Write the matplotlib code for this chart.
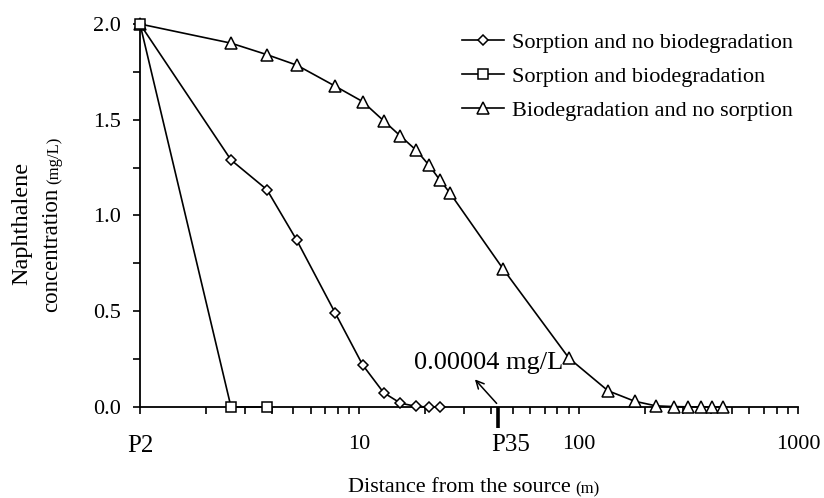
import matplotlib
matplotlib.use('Agg')
import matplotlib.pyplot as plt
from matplotlib.ticker import MultipleLocator, NullFormatter, LogLocator
from matplotlib.transforms import offset_copy

plt.rcParams['font.family'] = ['Liberation Serif', 'DejaVu Serif']

# distance from the source (m) and naphthalene concentration (mg/L)
dist_sorp_nobio = [1, 2.6, 3.79, 5.19, 7.77, 10.35, 12.9, 15.4, 18.2, 20.7, 23.3]
conc_sorp_nobio = [2.0, 1.29, 1.135, 0.87, 0.49, 0.22, 0.075, 0.02, 0.003, 0.0, 0.0]

dist_sorp_bio = [1, 2.6, 3.79]
conc_sorp_bio = [2.0, 0.0, 0.0]

dist_bio_nosorp = [1, 2.6, 3.79, 5.19, 7.77, 10.35, 12.9, 15.4, 18.2, 20.7, 23.3, 25.8,
                   45.3, 90.3, 136, 180, 225, 272, 315, 361, 405, 453]
conc_bio_nosorp = [2.0, 1.9, 1.84, 1.785, 1.675, 1.595, 1.495, 1.415, 1.34, 1.265, 1.185, 1.12,
                   0.72, 0.255, 0.085, 0.03, 0.006, 0.002, 0.001, 0.0, 0.0, 0.0]

x_ticks = [1, 10, 100, 1000]
x_ticklabels = ['P2', '10', '100', '1000']
p35_x = 43.1
y_ticks = [0, 0.5, 1.0, 1.5, 2.0]
y_ticklabels = ['0.0', '0.5', '1.0', '1.5', '2.0']

fig = plt.figure(figsize=(8.24, 4.98), dpi=100)
ax = fig.add_axes([140 / 824, 1 - 407 / 498, (798 - 140) / 824, (407 - 24) / 498])

style = dict(color='black', lw=1.2, mfc='white', mec='black', mew=1.1, clip_on=False)
ax.plot(dist_sorp_nobio, conc_sorp_nobio, marker='D', ms=5.5,
        label='Sorption and no biodegradation', zorder=4, **style)
ax.plot(dist_sorp_bio, conc_sorp_bio, marker='s', ms=6.5,
        label='Sorption and biodegradation', zorder=5, **style)
ax.plot(dist_bio_nosorp, conc_bio_nosorp, marker='^', ms=8,
        label='Biodegradation and no sorption', zorder=3, **style)

ax.set_xscale('log')
ax.set_xlim(1, 1000)
ax.set_ylim(0, 2.0)

ax.set_xticks(x_ticks + [p35_x], x_ticklabels + [''])
ax.xaxis.set_minor_locator(LogLocator(base=10, subs=range(2, 10)))
ax.xaxis.set_minor_formatter(NullFormatter())
ax.set_yticks(y_ticks, y_ticklabels)
ax.yaxis.set_minor_locator(MultipleLocator(0.25))

for s in ['top', 'right']:
    ax.spines[s].set_visible(False)
for s in ['left', 'bottom']:
    ax.spines[s].set_linewidth(1.3)

ax.tick_params(which='both', direction='out', length=5, width=1.2, labelsize=16)
ax.tick_params(axis='x', which='both', pad=15)
ax.tick_params(axis='y', which='both', pad=9)
ax.get_xticklabels()[0].set_fontsize(18)

# the P35 marker tick, longer and heavier
p35_tick = ax.xaxis.get_major_ticks()[-1]
p35_tick.tick1line.set_markersize(15)
p35_tick.tick1line.set_markeredgewidth(2.6)
ax.text(p35_x, 0, 'P35', fontsize=18, ha='center', va='top',
        transform=offset_copy(ax.get_xaxis_transform(), fig=fig, x=12, y=-27, units='dots'))

# detection note with arrow from P35
ax.annotate('', xy=(33.0, 0.155), xytext=(p35_x, 0.008),
            arrowprops=dict(arrowstyle='->', lw=1.1, color='black', mutation_scale=14),
            annotation_clip=False)
ax.text(39.0, 0.23, '0.00004 mg/L', fontsize=19, ha='center', va='center')

ax.legend(loc='upper right', bbox_to_anchor=(1.012, 1.014), frameon=False, fontsize=16,
          handlelength=1.9, handletextpad=0.35, labelspacing=0.62, borderaxespad=0.2)

# y label: two lines, units in smaller type
fig.text(22 / 824, 1 - 223 / 498, 'Naphthalene', rotation=90, fontsize=17.5,
         ha='center', va='center')
t_conc = fig.text(52 / 824, 1 - 312 / 498, 'concentration', rotation=90, fontsize=16.5,
                  ha='center', va='bottom')
ax.annotate('(mg/L)', xy=(1, 1), xycoords=t_conc, xytext=(0, 4), textcoords='offset pixels',
            rotation=90, fontsize=12, ha='right', va='bottom', annotation_clip=False)

# x label with units in smaller type
t_dist = fig.text(348 / 824, 1 - 497 / 498, 'Distance from the source', fontsize=16,
                  ha='left', va='bottom')
ax.annotate('(m)', xy=(1, 0), xycoords=t_dist, xytext=(5, 0), textcoords='offset pixels',
            fontsize=12, ha='left', va='bottom', annotation_clip=False)

fig.savefig('out.png', dpi=100)
